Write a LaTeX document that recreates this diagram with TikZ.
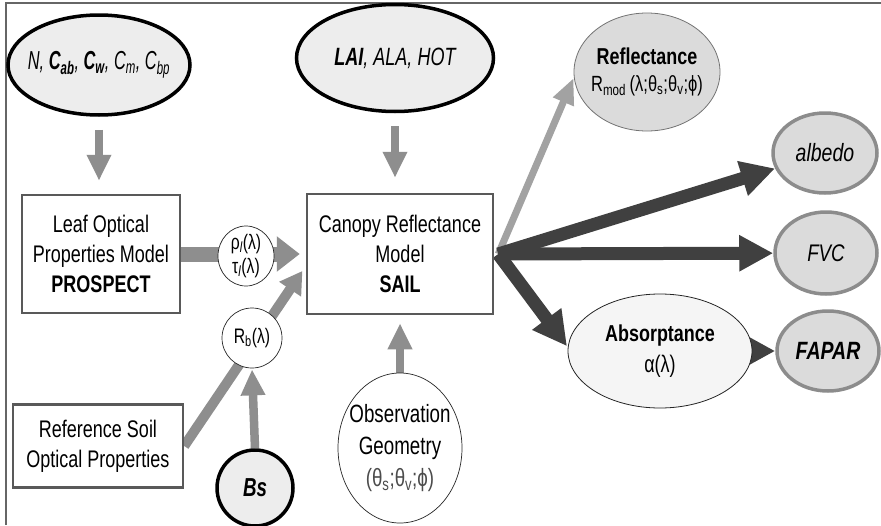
\documentclass[tikz,border=0pt]{standalone}
\usepackage{fontspec}
\setmainfont{Liberation Sans}[FakeStretch=0.75]
\newfontfamily\narrowfont{Liberation Sans}[FakeStretch=0.78]
\newfontfamily\narrowerfont{Liberation Sans}[FakeStretch=0.72]
\newfontfamily\narrowestfont{Liberation Sans}[FakeStretch=0.63]
\usetikzlibrary{shapes.geometric,arrows.meta,backgrounds}
\definecolor{inarrow}{HTML}{8E8E8E}
\definecolor{lightarrow}{HTML}{A2A2A2}
\definecolor{outarrow}{HTML}{404040}
\definecolor{framecol}{HTML}{666666}
\newcommand\sbs[1]{\textsubscript{#1}}
\newcommand\fs[1]{\fontsize{#1}{\dimexpr #1pt*118/100\relax}\selectfont}
\tikzset{
  fixell/.style={ellipse, inner xsep=-30pt, inner ysep=-30pt, align=center},
  inell/.style={fixell, draw=black, line width=3.5pt, fill=black!7},
  modbox/.style={rectangle, draw=black!65, line width=2.5pt, fill=white, inner sep=0pt, align=center, font=\fontsize{24}{30}\selectfont},
  smallell/.style={fixell, draw=black!85, line width=0.7pt, fill=white},
  outell/.style={fixell, draw=black!45, line width=3.5pt, fill=black!14, font=\narrowfont\fontsize{24}{28}\selectfont\itshape},
  garrow/.style={draw=inarrow, line width=8.5pt, -{Triangle[width=23pt,length=26pt]}},
  darrow/.style={draw=outarrow, line width=13pt, -{Triangle[width=34pt,length=34pt]}}
}
\begin{document}
\begin{tikzpicture}[x=1pt,y=-1pt]
\useasboundingbox (0,0) rectangle (881,525);

% inputs
\node[inell, minimum width=182pt, minimum height=100pt] (leafpar) at (99,65)
  {\narrowestfont\fs{26}\itshape N, \textbf{C\sbs{ab}}, \textbf{C\sbs{w}}, C\sbs{m}, C\sbs{bp}};
\node[inell, minimum width=197pt, minimum height=107pt] (canpar) at (395,58)
  {\narrowerfont\fs{25}\itshape \textbf{LAI}, ALA, HOT};

% models
\node[modbox, minimum width=158pt, minimum height=118pt] (prospect) at (101,254)
  {Leaf Optical\\Properties Model\\\textbf{PROSPECT}};
\node[modbox, minimum width=186pt, minimum height=120pt] (sail) at (400,254)
  {Canopy Reflectance\\Model\\\textbf{SAIL}};
\node[modbox, minimum width=170pt, minimum height=83pt] (soil) at (98,446)
  {Reference Soil\\Optical Properties};

% small intermediates
\node[smallell, minimum width=56pt, minimum height=60pt, font=\fontsize{21}{24}\selectfont] (leafopt) at (246,256)
  {ρ\sbs{\itshape l}(λ)\\τ\sbs{\itshape l}(λ)};
\node[smallell, minimum width=60pt, minimum height=60pt, font=\fontsize{21}{24}\selectfont] (soilref) at (252,338)
  {R\sbs{b}(λ)};
\node[inell, minimum width=76pt, minimum height=76pt] (bs) at (255,488)
  {\narrowerfont\fs{26}\itshape\bfseries Bs};
\node[smallell, minimum width=124pt, minimum height=150pt, font=\fontsize{25}{32}\selectfont] (obs) at (400,448)
  {Observation\\Geometry\\\textcolor{black!70}{(θ\sbs{s};θ\sbs{v};ϕ)}};

% outputs
\node[fixell, draw=black!55, line width=0.8pt, fill=black!14,
      minimum width=146pt, minimum height=118pt] (refl) at (647,72)
  {\narrowfont\fs{23}\bfseries Reflectance\\[9pt]\fs{22}R\sbs{mod}\,(λ;θ\sbs{s};θ\sbs{v};ϕ)};
\node[fixell, draw=black!85, line width=0.8pt, fill=black!4,
      minimum width=184pt, minimum height=114pt] (absorp) at (660,351)
  {\narrowfont\fs{23}\bfseries Absorptance\\[8pt]\fs{24}α(λ)};
\node[outell, minimum width=104pt, minimum height=80pt, font=\narrowfont\fontsize{25}{28}\selectfont\itshape] (albedo) at (825,153) {albedo};
\node[outell, minimum width=102pt, minimum height=82pt] (fvc) at (826,253) {FVC};
\node[outell, minimum width=102pt, minimum height=80pt, font=\narrowfont\fontsize{25}{28}\selectfont\itshape\bfseries] (fapar) at (828,351) {FAPAR};

\coordinate (hub) at ([xshift=4pt]sail.east);

\begin{scope}[on background layer]
  \fill[white] (0,0) rectangle (881,525);
  \draw[framecol, line width=2pt] (6,525) -- (6,3) -- (881,3);
  \draw[garrow, shorten <=13pt, shorten >=13pt] (leafpar.south) -- (leafpar.south |- prospect.north);
  \draw[garrow, shorten <=13pt, shorten >=15pt] (canpar.south) -- (canpar.south |- sail.north);
  \draw[garrow, shorten >=8pt] (obs.north) -- (obs.north |- sail.south);
  \draw[garrow, shorten >=1pt] (bs.north) -- (soilref.south);
  \draw[draw=inarrow, line width=15pt, -{Triangle[width=34pt,length=23pt]}, shorten >=6pt]
    (prospect.east) -- (prospect.east -| sail.west);
  \draw[draw=inarrow, line width=10pt, -{Triangle[width=25pt,length=22pt]}, shorten >=6pt]
    (soil.east) -- ([yshift=-12pt]sail.west);
  \draw[draw=lightarrow, line width=7pt, -{Triangle[width=21pt,length=26pt]}]
    (hub) -- ([yshift=-6pt]refl.west);
  \draw[darrow] (hub) -- (albedo);
  \draw[darrow] (hub) -- (fvc);
  \draw[darrow, shorten >=1pt] (hub) -- ([yshift=4pt]absorp.west);
  \draw[darrow] (absorp) -- (fapar);
\end{scope}
\end{tikzpicture}
\end{document}
